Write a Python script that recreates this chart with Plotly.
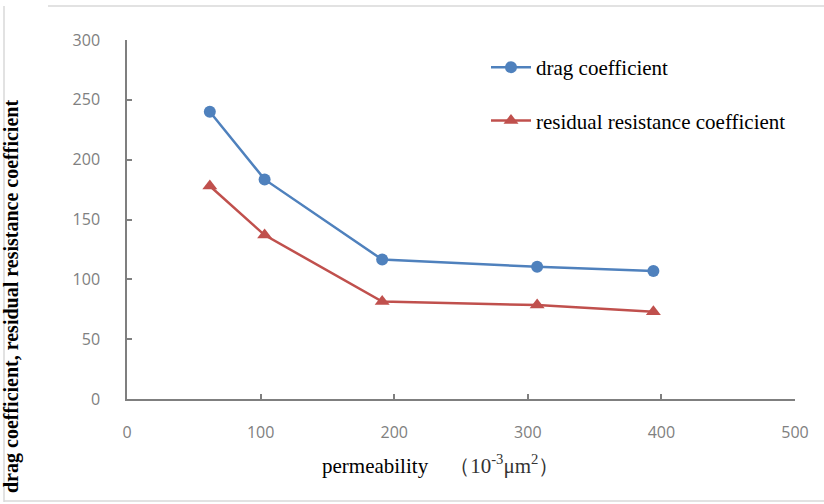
import plotly.graph_objects as go

permeability = [62, 103, 191, 307, 394]
drag_coefficient = [240, 183.5, 116.5, 110.5, 107]
residual_resistance = [178, 137, 81.5, 78.5, 73]

x_ticks = [0, 100, 200, 300, 400, 500]
y_ticks = [0, 50, 100, 150, 200, 250, 300]

W, H = 824, 504
L, R, T, B = 127, 795, 40, 399
pw, ph = R - L, B - T


def px(xp):
    return (xp - L) / pw


def py(yp):
    return (B - yp) / ph


fig = go.Figure()
fig.add_trace(go.Scatter(
    x=permeability, y=drag_coefficient, name="drag coefficient",
    mode="lines+markers", legendgroup="a",
    line=dict(color="#4F81BD", width=2.5),
    marker=dict(symbol="circle", size=12, color="#4F81BD"),
))
fig.add_trace(go.Scatter(
    x=permeability, y=residual_resistance, name="residual resistance coefficient",
    mode="lines+markers", legendgroup="b",
    line=dict(color="#C0504D", width=2.5),
    marker=dict(symbol="triangle-up", size=13, color="#C0504D"),
))

tick_font = dict(family="Open Sans, Liberation Sans, sans-serif", size=16, color="#808080")

fig.update_xaxes(
    range=[0, 500], tickvals=x_ticks, ticktext=[str(v) for v in x_ticks],
    showgrid=False, zeroline=False, showline=True, linecolor="#7f7f7f", linewidth=1.5,
    ticks="inside", ticklen=5, tickcolor="#7f7f7f", tickwidth=1.5,
    tickfont=tick_font, ticklabelstandoff=18,
)
fig.update_yaxes(
    range=[0, 300], tickvals=y_ticks, ticktext=[str(v) for v in y_ticks],
    showgrid=False, zeroline=False, showline=True, linecolor="#7f7f7f", linewidth=1.5,
    ticks="inside", ticklen=5, tickcolor="#7f7f7f", tickwidth=1.5,
    tickfont=tick_font, ticklabelstandoff=22,
)

serif = "Liberation Serif, Times New Roman, serif"

fig.add_annotation(
    text="<b>drag coefficient, residual resistance coefficient</b>",
    xref="paper", yref="paper", x=px(11), y=py(297),
    textangle=-90, showarrow=False, xanchor="center", yanchor="middle",
    font=dict(family=serif, size=20, color="#000000"),
)
fig.add_annotation(
    text="permeability　<span style='color:#333333'>（10<sup>-3</sup>μm<sup>2</sup>）</span>",
    xref="paper", yref="paper", x=px(440), y=py(465),
    showarrow=False, xanchor="center", yanchor="middle",
    font=dict(family=serif, size=21, color="#000000"),
)

# outer frame
frame = dict(color="#d9d9d9", width=1.5)
fig.add_shape(type="line", xref="paper", yref="paper",
              x0=px(48), x1=px(824), y0=py(6), y1=py(6), line=frame)
fig.add_shape(type="line", xref="paper", yref="paper",
              x0=px(4), x1=px(4), y0=py(6), y1=py(502), line=frame)
fig.add_shape(type="line", xref="paper", yref="paper",
              x0=px(4), x1=px(824), y0=py(501), y1=py(501), line=frame)

fig.update_layout(
    width=W, height=H,
    margin=dict(l=L, r=W - R, t=T, b=H - B),
    paper_bgcolor="white", plot_bgcolor="white",
    legend=dict(
        x=px(486), y=py(47), xanchor="left", yanchor="top",
        font=dict(family=serif, size=21, color="#000000"),
        tracegroupgap=23, bgcolor="rgba(0,0,0,0)", itemwidth=40,
    ),
    showlegend=True,
)

fig.write_html("out.html", config={"displayModeBar": False},
               post_script="document.body.style.margin='0';")
